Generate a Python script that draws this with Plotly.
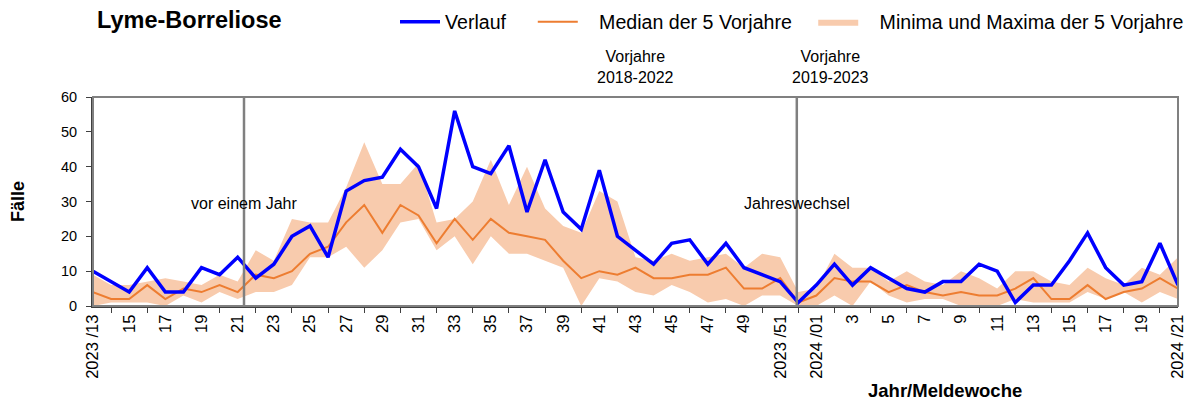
import plotly.graph_objects as go

# ---- data ----
weeks_2023 = list(range(13, 53))
weeks_2024 = list(range(1, 22))
categories = [f"2023/{w:02d}" for w in weeks_2023] + [f"2024/{w:02d}" for w in weeks_2024]

verlauf = [10, 7, 4, 11, 4, 4, 11, 9, 14, 8, 12, 20, 23, 14, 33, 36, 37, 45, 40, 28, 56,
           40, 38, 46, 27, 42, 27, 22, 39, 20, 16, 12, 18, 19, 12, 18, 11, 9, 7, 1,
           6, 12, 6, 11, 8, 5, 4, 7, 7, 12, 10, 1, 6, 6, 13, 21, 11, 6, 7, 18, 6]
median5 = [4, 2, 2, 6, 2, 5, 4, 6, 4, 9, 8, 10, 15, 17, 24, 29, 21, 29, 26, 18, 25,
           19, 25, 21, 20, 19, 13, 8, 10, 9, 11, 8, 8, 9, 9, 11, 5, 5, 8, 1,
           3, 8, 7, 7, 4, 6, 4, 3, 4, 3, 3, 5, 8, 2, 2, 6, 2, 4, 5, 8, 5]
max5 = [9, 6, 6, 7, 8, 7, 6, 9, 7, 16, 13, 25, 24, 24, 34, 47, 35, 35, 41, 24, 25,
        30, 42, 29, 40, 28, 23, 21, 33, 30, 14, 13, 15, 13, 14, 15, 11, 15, 14, 4,
        5, 15, 11, 11, 7, 10, 7, 6, 10, 8, 5, 10, 10, 7, 6, 11, 8, 6, 11, 9, 14]
min5 = [0, 1, 1, 1, 0, 3, 1, 4, 2, 4, 4, 6, 14, 14, 17, 11, 16, 24, 25, 16, 20,
        12, 20, 15, 15, 13, 11, 0, 8, 7, 4, 3, 6, 4, 1, 2, 0, 3, 3, 0,
        0, 3, 0, 7, 3, 1, 2, 2, 0, 0, 0, 2, 1, 1, 1, 4, 2, 4, 1, 4, 2]

x = list(range(len(categories)))

# tick labels every 2 weeks
tickvals = x[::2]
ticktext = []
for i in tickvals:
    yr, wk = categories[i].split("/")
    if i in (0, len(categories) - 1) or categories[i] in ("2023/51", "2024/01"):
        ticktext.append(f"{yr} /{wk}")
    else:
        ticktext.append(str(int(wk)))
minor_vals = x[1::2]

idx_vor_einem_jahr = categories.index("2023/21") + 0.35
idx_jahreswechsel = categories.index("2023/52") - 0.08

FONT = "Liberation Sans, Arial, sans-serif"
BLUE = "#0000FF"
ORANGE = "#ED7D31"
PEACH = "#F8CBAD"
NB = "\u00a0"

# page body has an 8px margin -> figure is 8px smaller, offsets reduced by 8
W, H = 1186, 393
ML, MR, MT, MB = 85, 16, 89, 95
plot_w, plot_h = W - ML - MR, H - MT - MB

fig = go.Figure()
fig.add_trace(go.Scatter(x=x, y=min5, mode="lines", line=dict(width=0, color=PEACH),
                         showlegend=False, hoverinfo="skip"))
fig.add_trace(go.Scatter(x=x, y=max5, mode="lines", line=dict(width=0, color=PEACH),
                         fill="tonexty", fillcolor=PEACH,
                         name=NB * 3 + "Minima und Maxima der 5 Vorjahre", legendrank=3))
fig.add_trace(go.Scatter(x=x, y=median5, mode="lines", line=dict(width=2, color=ORANGE),
                         name=NB * 3 + "Median der 5 Vorjahre" + NB * 3, legendrank=2))
fig.add_trace(go.Scatter(x=x, y=verlauf, mode="lines", line=dict(width=3.5, color=BLUE),
                         name="Verlauf" + NB * 4, legendrank=1))

# vertical reference lines
for xv in (idx_vor_einem_jahr, idx_jahreswechsel):
    fig.add_shape(type="line", xref="x", yref="y", x0=xv, x1=xv, y0=0, y1=60,
                  line=dict(color="#808080", width=2.5), layer="above")

# plot border
fig.add_shape(type="rect", xref="paper", yref="paper", x0=0, x1=1, y0=0, y1=1,
              line=dict(color="#808080", width=2), layer="above")

annots = [
    dict(x=idx_vor_einem_jahr, y=29.5, xref="x", yref="y", text="vor einem Jahr",
         showarrow=False, font=dict(size=16)),
    dict(x=idx_jahreswechsel, y=29.5, xref="x", yref="y", text="Jahreswechsel",
         showarrow=False, font=dict(size=16)),
    dict(x=30.0, y=1.0, xref="x", yref="paper", yshift=9, yanchor="bottom",
         text="Vorjahre<br>2018-2022", showarrow=False, font=dict(size=16)),
    dict(x=40.8, y=1.0, xref="x", yref="paper", yshift=9, yanchor="bottom",
         text="Vorjahre<br>2019-2023", showarrow=False, font=dict(size=16)),
    dict(x=(945 - 8 - ML) / plot_w, y=-(390 - 306) / plot_h, xref="paper", yref="paper",
         xanchor="center", yanchor="middle", text="<b>Jahr/Meldewoche</b>",
         showarrow=False, font=dict(size=18.5)),
]

fig.update_layout(
    annotations=annots,
    width=W, height=H,
    margin=dict(l=ML, r=MR, t=MT, b=MB),
    paper_bgcolor="white", plot_bgcolor="white",
    font=dict(family=FONT, color="black", size=14),
    title=dict(text="<b>Lyme-Borreliose</b>", x=89 / W, xanchor="left",
               y=1 - 12 / H, yanchor="middle", font=dict(size=23.5, family=FONT)),
    legend=dict(orientation="h", x=(387 - ML) / plot_w, xanchor="left",
                y=1 - 14 / H, yref="container",
                yanchor="middle", font=dict(size=19.6, family=FONT), bgcolor="rgba(0,0,0,0)",
                itemwidth=40, traceorder="normal"),
    showlegend=True,
)

fig.update_xaxes(
    range=[0, 60], tickmode="array", tickvals=tickvals, ticktext=ticktext,
    tickangle=-90, tickfont=dict(size=16.5), ticks="outside", ticklen=0,
    minor=dict(tickvals=minor_vals, ticks="outside", ticklen=5, tickcolor="#404040", tickwidth=1),
    showline=True, linecolor="#404040", linewidth=2, showgrid=False, zeroline=False,
    automargin=False,
)
fig.update_yaxes(
    range=[0, 60], dtick=10, ticks="outside", ticklen=5, tickcolor="#404040",
    tickfont=dict(size=14.5), ticklabelstandoff=6, showline=True, linecolor="#404040", linewidth=2,
    showgrid=False, zeroline=False,
    title=dict(text="<b>Fälle</b>", font=dict(size=18), standoff=40),
    automargin=False,
)

fig.write_html("out.html")
